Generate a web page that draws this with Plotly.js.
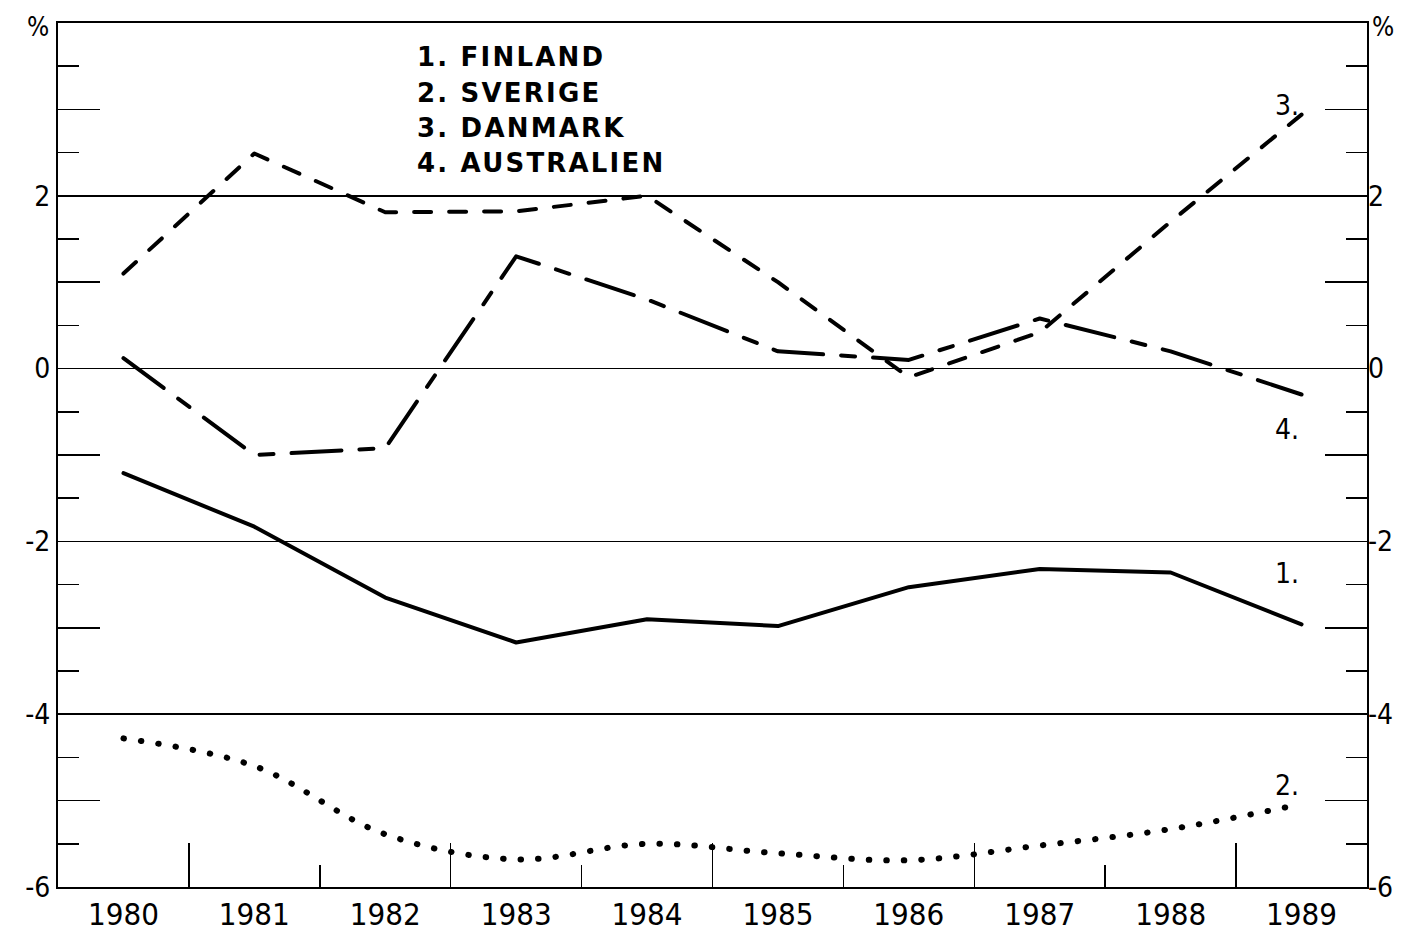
<!DOCTYPE html>
<html>
<head>
<meta charset="utf-8">
<script src="https://cdn.plot.ly/plotly-3.0.1.min.js"></script>
<style>
  html, body { margin: 0; padding: 0; background: #fff; }
  #chart { width: 1415px; height: 935px; }
  .js-line { stroke-linecap: round; stroke-linejoin: round; }
  g.annotation[data-index="0"] text, g.annotation[data-index="1"] text,
  g.annotation[data-index="2"] text, g.annotation[data-index="3"] text { letter-spacing: 2.2px; }
</style>
</head>
<body>
<div id="chart"></div>
<script>
// ---- data ----
const years = [1980, 1981, 1982, 1983, 1984, 1985, 1986, 1987, 1988, 1989];
const yearLabels = ["1980", "1981", "1982", "1983", "1984", "1985", "1986", "1987", "1988", "1989"];
const finland    = [-1.21, -1.83, -2.65, -3.17, -2.90, -2.98, -2.53, -2.32, -2.36, -2.96];
const sverige    = [-4.28, -4.60, -5.39, -5.68, -5.50, -5.61, -5.69, -5.52, -5.33, -5.04];
const danmark    = [1.10, 2.49, 1.81, 1.82, 2.00, 1.00, -0.10, 0.42, 1.70, 2.94];
const australien = [0.12, -1.00, -0.92, 1.30, 0.80, 0.20, 0.10, 0.58, 0.20, -0.30];
const legendLabels = ["1. FINLAND", "2. SVERIGE", "3. DANMARK", "4. AUSTRALIEN"];
const curveLabels = ["1.", "2.", "3.", "4."];
const yTickVals = [-6, -5, -4, -3, -2, -1, 0, 1, 2, 3];
const yTickText = ["-6", "", "-4", "", "-2", "", "0", "", "2", ""];
const gridVals = [-4, -2, 0, 2];
const xLongTicks = [1980.5, 1982.5, 1984.5, 1986.5, 1988.5];
const xShortTicks = [1981.5, 1983.5, 1985.5, 1987.5];
const unitLabel = "%";

const tickFont = "DejaVu Sans Condensed, DejaVu Sans, sans-serif";
const black = "#000";

const traces = [
  { x: years, y: finland, mode: "lines", name: "FINLAND",
    line: { color: black, width: 4 } },
  { x: years, y: sverige, mode: "lines", name: "SVERIGE",
    line: { color: black, width: 6, dash: "0.5px,17px", shape: "spline", smoothing: 1 } },
  { x: years, y: danmark, mode: "lines", name: "DANMARK",
    line: { color: black, width: 4, dash: "17px,18px" } },
  { x: years, y: australien, mode: "lines", name: "AUSTRALIEN",
    line: { color: black, width: 4, dash: "50px,18px,14px,18px" } },
  // helpers so the overlay axes are drawn
  { x: [null], y: [null], xaxis: "x2", yaxis: "y2", mode: "lines", hoverinfo: "skip" },
  { x: [null], y: [null], xaxis: "x", yaxis: "y3", mode: "lines", hoverinfo: "skip" }
];

const xRange = [1979.5, 1989.5];
const yRange = [-6, 4];

const layout = {
  width: 1415, height: 935,
  margin: { l: 58, r: 48, t: 23, b: 48, pad: 0 },
  paper_bgcolor: "#fff", plot_bgcolor: "#fff",
  showlegend: false,
  xaxis: {
    range: xRange, tickmode: "array", tickvals: years, ticktext: yearLabels,
    ticks: "", showline: true, linecolor: black, linewidth: 2, mirror: true,
    showgrid: false, zeroline: false,
    tickfont: { family: tickFont, size: 31, color: black },
    ticklabelstandoff: -1,
    minor: { tickmode: "array", tickvals: xShortTicks, ticks: "inside", ticklen: 22, tickwidth: 1.5, tickcolor: black, showgrid: false }
  },
  xaxis2: {
    overlaying: "x", anchor: "y", side: "bottom", range: xRange,
    tickmode: "array", tickvals: xLongTicks, ticks: "inside", ticklen: 44, tickwidth: 1.5, tickcolor: black,
    showticklabels: false, showline: false, showgrid: false, zeroline: false
  },
  yaxis: {
    range: yRange, tickmode: "array", tickvals: yTickVals, ticktext: yTickText,
    ticks: "inside", ticklen: 42, tickwidth: 1.5, tickcolor: black,
    showline: true, linecolor: black, linewidth: 2, mirror: true,
    showgrid: false, zeroline: false,
    tickfont: { family: tickFont, size: 28, color: black },
    minor: { tickmode: "linear", tick0: 0.5, dtick: 1, ticks: "inside", ticklen: 21, tickwidth: 1.5, tickcolor: black, showgrid: false }
  },
  yaxis2: {
    overlaying: "y", side: "right", anchor: "x", range: yRange,
    tickmode: "array", tickvals: yTickVals, ticktext: yTickText,
    ticks: "inside", ticklen: 42, tickwidth: 1.5, tickcolor: black,
    showline: false, showgrid: false, zeroline: false,
    tickfont: { family: tickFont, size: 28, color: black },
    minor: { tickmode: "linear", tick0: 0.5, dtick: 1, ticks: "inside", ticklen: 21, tickwidth: 1.5, tickcolor: black, showgrid: false }
  },
  yaxis3: {
    overlaying: "y", anchor: "x", range: yRange,
    tickmode: "array", tickvals: gridVals, ticks: "", showticklabels: false,
    showgrid: true, gridcolor: black, gridwidth: 1.5,
    showline: false, zeroline: false
  },
  annotations: []
};

// legend block (top, as text)
const legendY = [3.61, 3.19, 2.785, 2.38];
legendLabels.forEach((t, i) => {
  layout.annotations.push({
    x: 1982.23, y: legendY[i], xref: "x", yref: "y", text: t, showarrow: false,
    xanchor: "left", yanchor: "middle", align: "left",
    font: { family: "DejaVu Sans, sans-serif", size: 26, color: black, weight: "bold" }
  });
});

// curve end labels
const curveLabelY = [-2.37, -4.82, 3.05, -0.70];
curveLabels.forEach((t, i) => {
  layout.annotations.push({
    x: 1988.89, y: curveLabelY[i], xref: "x", yref: "y", text: t, showarrow: false,
    xanchor: "center", yanchor: "middle",
    font: { family: tickFont, size: 28, color: black }
  });
});

// % unit labels on both sides
[-0.0153, 1.0122].forEach(px => {
  layout.annotations.push({
    x: px, y: 0.995, xref: "paper", yref: "paper", text: unitLabel, showarrow: false,
    xanchor: "center", yanchor: "middle",
    font: { family: tickFont, size: 26, color: black }
  });
});

Plotly.newPlot("chart", traces, layout, { displayModeBar: false, staticPlot: true });
</script>
</body>
</html>
